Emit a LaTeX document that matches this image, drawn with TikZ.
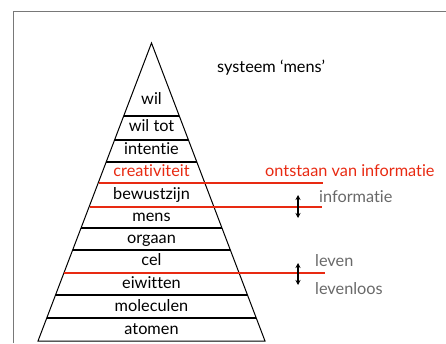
\documentclass[tikz,border=0pt]{standalone}
\usepackage{fontspec}
\usetikzlibrary{arrows.meta}
\setmainfont[Ligatures=NoCommon]{Lato}
\definecolor{myred}{RGB}{232,42,18}
\definecolor{mygray}{RGB}{105,105,105}
\definecolor{framegray}{RGB}{120,120,120}
\begin{document}
\begin{tikzpicture}[x=1pt,y=-1pt,
  lab/.style={font=\fontsize{16.3}{18}\selectfont, inner sep=0pt, text height=11pt, text depth=3pt},
  side/.style={font=\fontsize{16.3}{18}\selectfont, inner sep=0pt, anchor=west, text height=11pt, text depth=3pt},
  divider/.style={line width=1.8pt, black},
  redline/.style={line width=1.6pt, myred},
  dblarrow/.style={{Stealth[length=5pt,width=5pt]}-{Stealth[length=5pt,width=5pt]}, line width=1.1pt}
]
\useasboundingbox (0,0) rectangle (446,343);
% frame
\draw[framegray, line width=0.9pt] (13,343) -- (13,11) -- (446,11);
% pyramid
\coordinate (apex) at (151.5,43);
\coordinate (bl) at (38,341);
\coordinate (br) at (265,341);
\draw[line width=1pt, fill=white] (apex) -- (bl) -- (br) -- cycle;
\begin{scope}
\clip (apex) -- (bl) -- (br) -- cycle;
\foreach \yy in {116,140,162,228,250,295,318}
  \draw[divider] (0,\yy) -- (300,\yy);
\end{scope}
% red lines
\coordinate (r1a) at (98.5,183);  \coordinate (r1b) at (323,183);
\coordinate (r2a) at (89.5,207);  \coordinate (r2b) at (322,207);
\coordinate (r3a) at (64,273);    \coordinate (r3b) at (325,273);
\draw[redline] (r1a) -- (r1b);
\draw[redline] (r2a) -- (r2b);
\draw[redline] (r3a) -- (r3b);
% labels
\node[lab] (wil) at (151.5,100) {wil};
\node[lab] (wiltot) at (151.5,127.5) {wil tot};
\node[lab] (intentie) at (151.5,150) {intentie};
\node[lab, text=myred] (creativiteit) at (151.5,172) {creativiteit};
\node[lab] (bewustzijn) at (151.5,195) {bewustzijn};
\node[lab] (mens) at (151.5,217) {mens};
\node[lab] (orgaan) at (151.5,239) {orgaan};
\node[lab] (cel) at (151.5,261.5) {cel};
\node[lab] (eiwitten) at (151.5,284) {eiwitten};
\node[lab] (moleculen) at (151.5,307) {moleculen};
\node[lab] (atomen) at (151.5,330) {atomen};
% side texts
\node[side] (systeem) at (217,68) {systeem ‘mens’};
\node[side, text=myred] (ontstaan) at (265,172) {ontstaan van informatie};
\node[side, text=mygray] (informatie) at (319,198) {informatie};
\node[side, text=mygray] (leven) at (315,262) {leven};
\node[side, text=mygray] (levenloos) at (315,290) {levenloos};
% arrows
\coordinate (a1t) at (298,195); \coordinate (a1b) at (298,218);
\coordinate (a2t) at (298,263); \coordinate (a2b) at (298,285);
\draw[dblarrow] (a1t) -- (a1b);
\draw[dblarrow] (a2t) -- (a2b);
\end{tikzpicture}
\end{document}
